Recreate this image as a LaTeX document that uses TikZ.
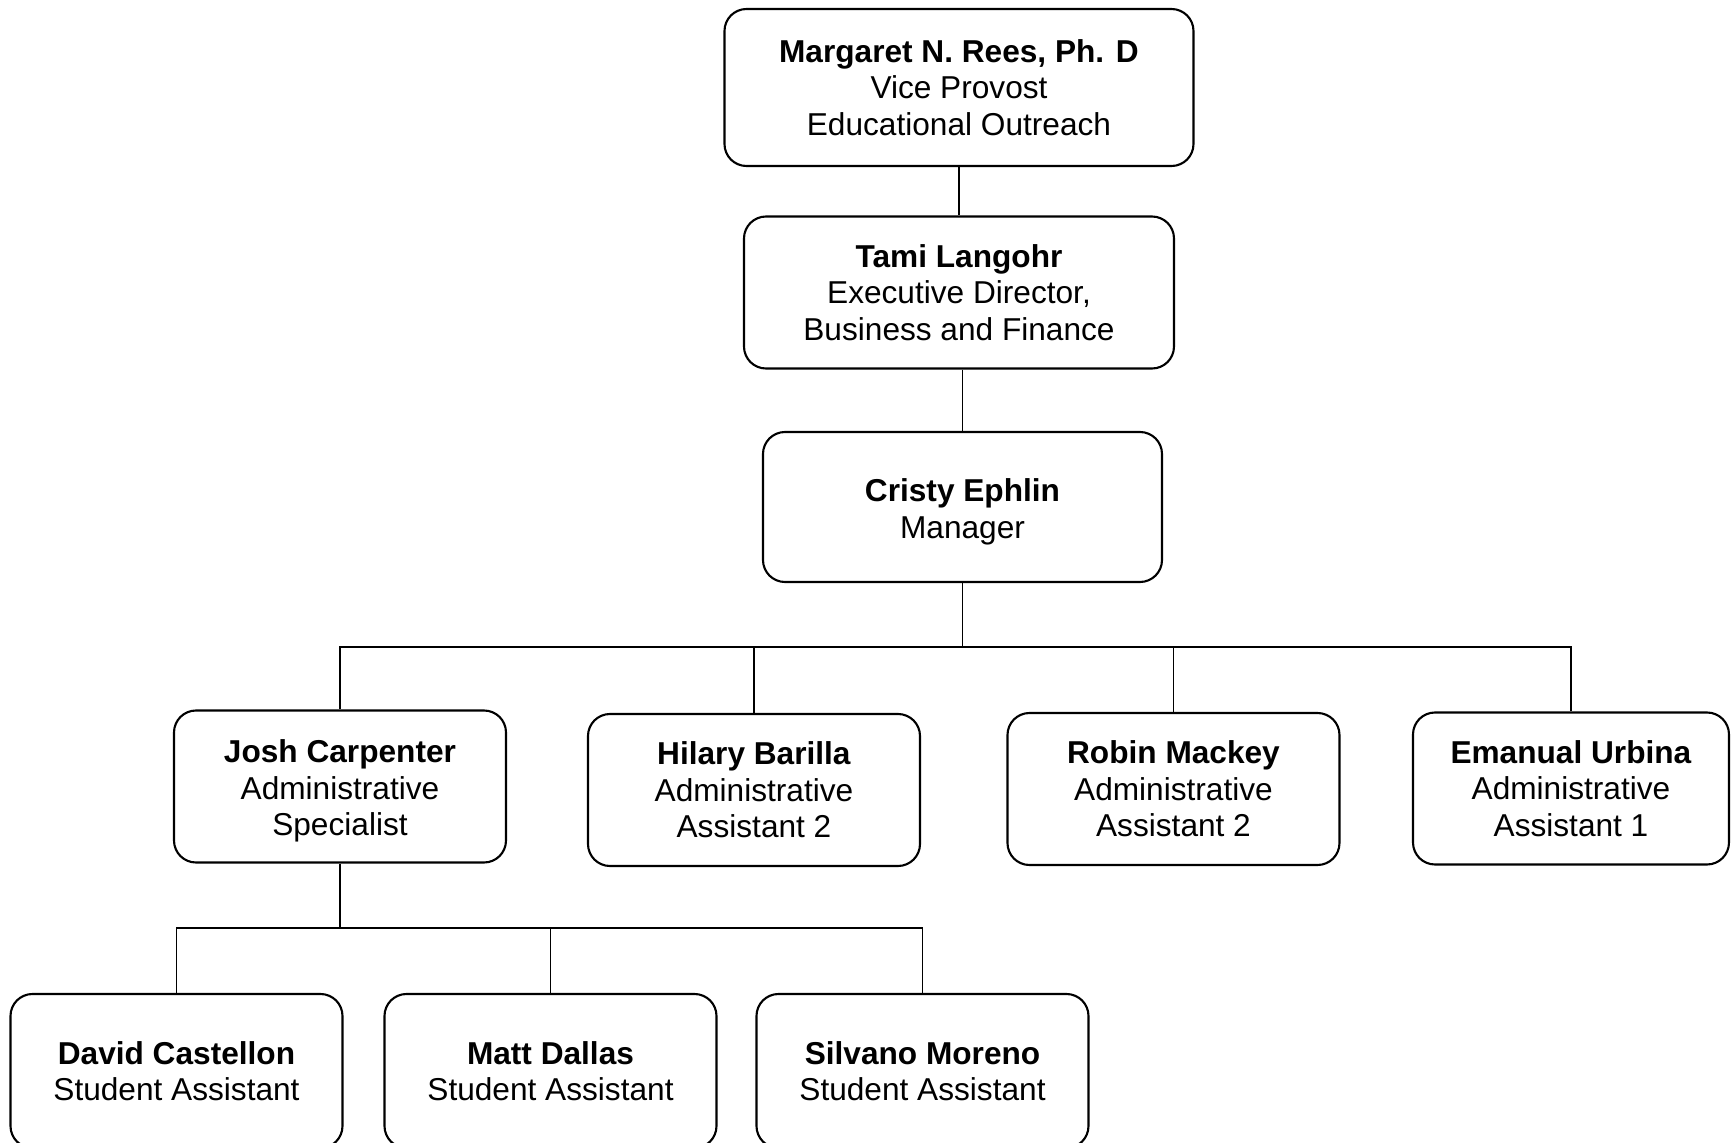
\documentclass[tikz,border=0pt]{standalone}
\usepackage{fontspec}
\setmainfont{Liberation Sans}
\usetikzlibrary{positioning,calc}

% bold name line; the optional strut pushes the text a bit lower in its box
\newcommand{\who}[2][0pt]{\rule{0pt}{#1}\textbf{#2}}

\begin{document}
\begin{tikzpicture}[
    person/.style={rectangle, rounded corners=0.22cm, draw=black, line width=0.6pt, align=center,
        minimum width=3.32cm, minimum height=1.52cm, inner sep=0pt, font=\fontsize{9}{10.4}\selectfont},
    link/.style={line width=0.5pt}
]
\useasboundingbox (0,0) rectangle (17.31,11.42);

% Top levels
\node[person, minimum width=4.69cm, minimum height=1.57cm] (rees) at (9.59, 10.545) {\who{Margaret N. Rees, Ph. D}\\Vice Provost\\Educational Outreach};
\node[person, minimum width=4.30cm] (langohr) at (9.59, 8.495) {\who{Tami Langohr}\\Executive Director,\\Business and Finance};
\node[person, minimum width=3.99cm, minimum height=1.50cm] (ephlin) at (9.625, 6.35) {\who[9.2pt]{Cristy Ephlin}\\Manager};

\draw[link] (rees) -- (langohr);
\draw[link] (ephlin.north |- langohr.south) -- (ephlin.north);

% Administrative staff
\node[person] (carpenter) at (3.40, 3.555) {\who[9.2pt]{Josh Carpenter}\\Administrative\\Specialist};
\node[person] (barilla) at (7.54, 3.52) {\who{Hilary Barilla}\\Administrative\\Assistant 2};
\node[person] (mackey) at (11.735, 3.53) {\who{Robin Mackey}\\Administrative\\Assistant 2};
\node[person, minimum width=3.16cm] (urbina) at (15.71, 3.535) {\who{Emanual Urbina}\\Administrative\\Assistant 1};

\coordinate (staffbus) at (ephlin.south |- 0,4.95);
\draw[link] (ephlin) -- (staffbus);
\foreach \n in {carpenter,barilla,mackey,urbina}
    \draw[link] (\n.north) |- (staffbus);

% Student assistants
\node[person, minimum height=1.54cm] (castellon) at (1.765, 0.71) {\who{David Castellon}\\Student Assistant};
\node[person, minimum height=1.54cm] (dallas) at (5.505, 0.71) {\who{Matt Dallas}\\Student Assistant};
\node[person, minimum height=1.54cm] (moreno) at (9.225, 0.71) {\who{Silvano Moreno}\\Student Assistant};

\coordinate (studentbus) at (carpenter.south |- 0,2.14);
\draw[link] (carpenter) -- (studentbus);
\foreach \n in {castellon,dallas,moreno}
    \draw[link] (\n.north) |- (studentbus);

\end{tikzpicture}
\end{document}
